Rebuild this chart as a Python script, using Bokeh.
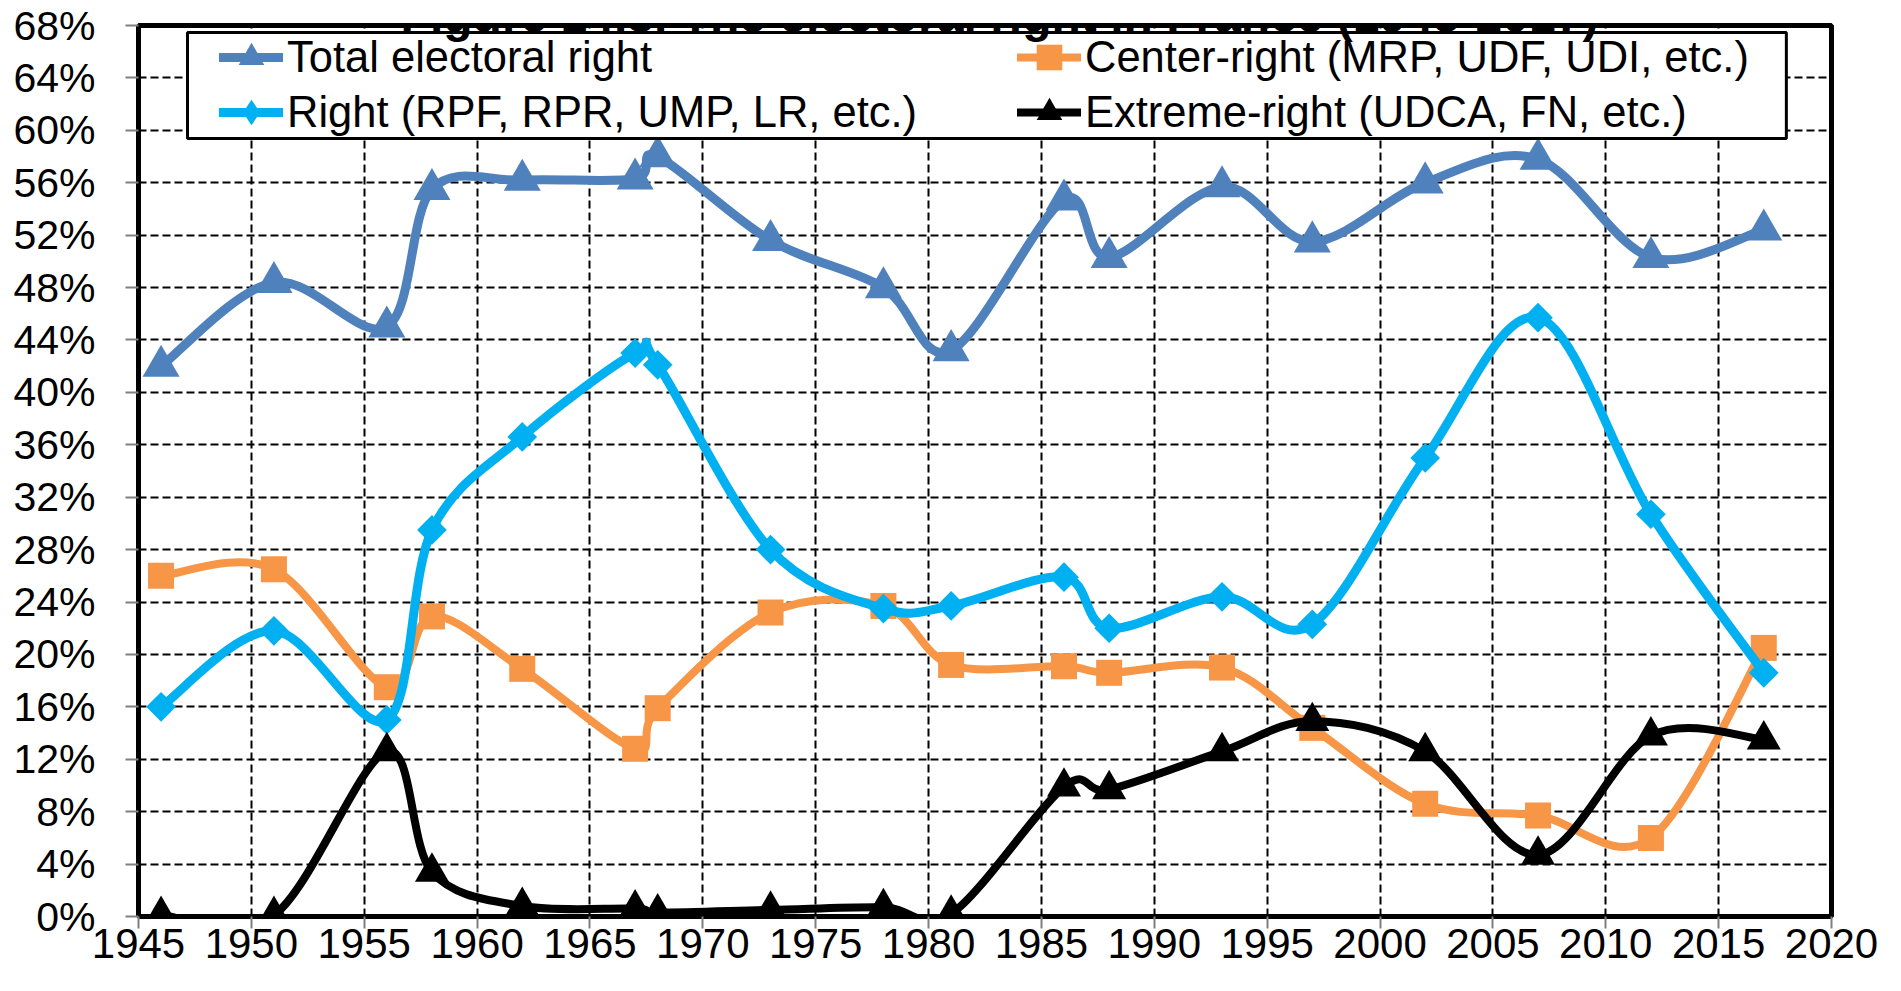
import numpy as np
from bokeh.plotting import figure
from bokeh.models import (Legend, LegendItem, BoxAnnotation, Label, FixedTicker,
                          PrintfTickFormatter, Range1d, ColumnDataSource)
from bokeh.embed import file_html
from bokeh.resources import INLINE

# ---------------- data ----------------
years = [1946, 1951, 1956, 1958, 1962, 1967, 1968, 1973, 1978, 1981,
         1986, 1988, 1993, 1997, 2002, 2007, 2012, 2017]
total_right = [42.0, 48.4, 45.0, 55.5, 56.2, 56.3, 58.0, 51.6, 48.0, 43.2,
               54.7, 50.3, 55.7, 51.5, 56.0, 57.8, 50.3, 52.4]
right = [16.0, 21.8, 15.0, 29.5, 36.6, 43.0, 42.1, 28.0, 23.5, 23.7,
         25.9, 22.0, 24.4, 22.3, 35.0, 45.7, 30.7, 18.6]
center_right = [26.0, 26.5, 17.5, 22.9, 18.9, 12.8, 15.9, 23.2, 23.7, 19.2,
                19.1, 18.6, 19.0, 14.4, 8.6, 7.7, 6.0, 20.5]
extreme_right = [0.1, 0.1, 12.6, 3.4, 0.8, 0.6, 0.3, 0.5, 0.7, 0.2,
                 9.9, 9.7, 12.6, 14.9, 12.6, 4.7, 13.8, 13.5]

x_ticks = [1945, 1950, 1955, 1960, 1965, 1970, 1975, 1980, 1985, 1990,
           1995, 2000, 2005, 2010, 2015, 2020]
y_ticks = [0, 4, 8, 12, 16, 20, 24, 28, 32, 36, 40, 44, 48, 52, 56, 60, 64, 68]

title_text = "Figure 14.3. The electoral right in France (1945-2017)"
labels = ["Total electoral right", "Center-right (MRP, UDF, UDI, etc.)",
          "Right (RPF, RPR, UMP, LR, etc.)", "Extreme-right (UDCA, FN, etc.)"]

FONT = "Liberation Sans"
C_TOTAL = "#4F81BD"
C_RIGHT = "#00B0F0"
C_CENTER = "#F79646"
C_EXTREME = "#000000"


def smooth_segments(xs, ys):
    """Bezier segments of an Excel-like smoothed line through the points."""
    x = np.asarray(xs, float)
    y = np.asarray(ys, float)
    n = len(x)
    xp = np.concatenate([[x[0]], x, [x[-1]]])
    yp = np.concatenate([[y[0]], y, [y[-1]]])
    d = dict(x0=[], y0=[], x1=[], y1=[], cx0=[], cy0=[], cx1=[], cy1=[])
    for i in range(n - 1):
        j = i + 1
        d["x0"].append(xp[j]); d["y0"].append(yp[j])
        d["x1"].append(xp[j + 1]); d["y1"].append(yp[j + 1])
        d["cx0"].append(xp[j] + (xp[j + 1] - xp[j - 1]) / 6.0)
        d["cy0"].append(yp[j] + (yp[j + 1] - yp[j - 1]) / 6.0)
        d["cx1"].append(xp[j + 1] - (xp[j + 2] - xp[j]) / 6.0)
        d["cy1"].append(yp[j + 1] - (yp[j + 2] - yp[j]) / 6.0)
    return ColumnDataSource(d)


p = figure(width=1885, height=975, output_backend="svg", toolbar_location=None,
           x_range=Range1d(1945, 2020), y_range=Range1d(0, 68),
           min_border_left=138, min_border_right=54, min_border_top=25,
           min_border_bottom=59, background_fill_color="white",
           border_fill_color="white")

p.outline_line_color = "black"
p.outline_line_width = 5

# axes
p.xaxis.ticker = FixedTicker(ticks=x_ticks)
p.yaxis.ticker = FixedTicker(ticks=y_ticks)
p.yaxis.formatter = PrintfTickFormatter(format="%d%%")
for ax in (p.xaxis, p.yaxis):
    ax.axis_line_color = None
    ax.major_tick_line_color = "#808080"
    ax.major_tick_line_width = 2
    ax.major_tick_in = 0
    ax.minor_tick_line_color = None
    ax.major_label_text_font = FONT
    ax.major_label_text_color = "black"
p.xaxis.major_tick_out = 12
p.xaxis.major_label_standoff = 0
p.xaxis.major_label_text_font_size = "42px"
p.yaxis.major_tick_out = 13
p.yaxis.major_label_standoff = 30
p.yaxis.major_label_text_font_size = "41px"

# grids
p.xgrid.ticker = FixedTicker(ticks=x_ticks)
p.ygrid.ticker = FixedTicker(ticks=y_ticks)
for g in (p.xgrid, p.ygrid):
    g.grid_line_color = "black"
    g.grid_line_width = 2
    g.grid_line_dash = "8 4"

# series (draw order as in the source chart)
series = [
    (total_right, C_TOTAL, 9, "triangle", 37, 0.0, "triangle"),
    (center_right, C_CENTER, 8, "square", 26, 0.0, "square"),
    (right, C_RIGHT, 9, "square", 21, np.pi / 4, "diamond"),
    (extreme_right, C_EXTREME, 8, "triangle", 34, 0.0, "triangle"),
]
legend_renderers = []
for vals, color, lw, marker, size, ang, leg_marker in series:
    src = smooth_segments(years, vals)
    br = p.bezier(x0="x0", y0="y0", x1="x1", y1="y1", cx0="cx0", cy0="cy0",
                  cx1="cx1", cy1="cy1", source=src, line_color=color,
                  line_width=lw, line_cap="round")
    sr = p.scatter(x=years, y=vals, marker=marker, size=size, angle=ang,
                   fill_color=color, line_color=color, line_width=0)
    if leg_marker != marker:
        # legend-only marker (not shown in the plot area)
        sr = p.scatter(x=np.array([np.nan]), y=np.array([np.nan]),
                       marker=leg_marker, size=size, fill_color=color,
                       line_color=color, line_width=0)
    legend_renderers.append([br, sr])

# legend frame
box = BoxAnnotation(left=1947.17, right=2018.0, bottom=59.38, top=67.46,
                    fill_color="white", fill_alpha=1.0, line_color="black",
                    line_width=3, line_alpha=1.0)
p.add_layout(box)

# legend entries: (series index, x offset, y offset) in frame screen units
positions = [(0, 81, 826), (1, 879, 826), (2, 81, 771), (3, 879, 771)]
for idx, lx, ly in positions:
    lg = Legend(items=[LegendItem(label=labels[idx], renderers=legend_renderers[idx])],
                location=(lx, ly), orientation="vertical", padding=0, margin=0,
                spacing=0, glyph_width=64, glyph_height=66, label_standoff=4,
                label_text_font=FONT, label_text_font_size="43.5px",
                label_text_color="black", border_line_alpha=0,
                background_fill_alpha=0)
    p.add_layout(lg)

# title: its upper half lies above the picture, as in the source
title = Label(x=861, y=68.0, x_units="screen", y_units="data", text=title_text,
              text_align="center", text_baseline="alphabetic", y_offset=10,
              text_font=FONT, text_font_style="bold", text_font_size="48px",
              text_color="black", level="overlay")
p.add_layout(title)

open("out.html", "w").write(file_html(p, INLINE))
